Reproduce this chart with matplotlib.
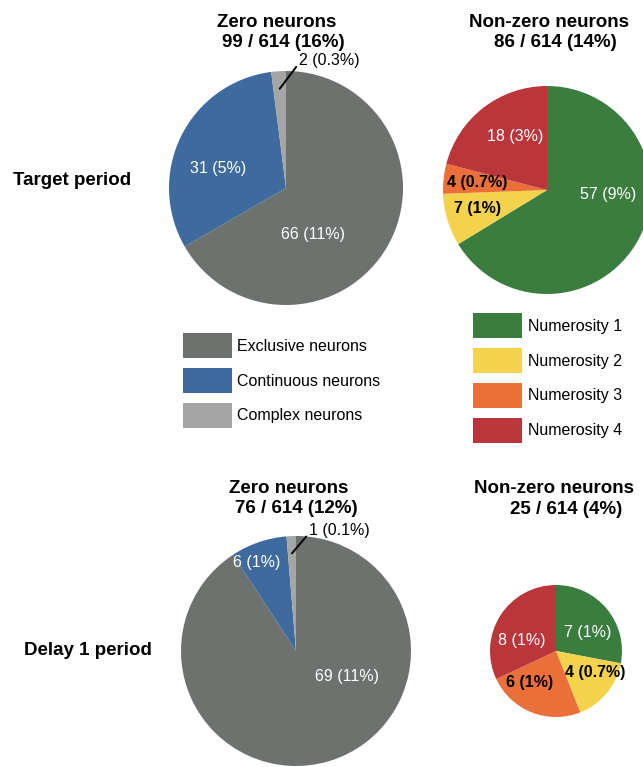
import matplotlib.pyplot as plt
import numpy as np

plt.rcParams['font.family'] = ['Liberation Sans', 'DejaVu Sans']

W, H = 643, 767
total = 614

type_names = ["Exclusive neurons", "Continuous neurons", "Complex neurons"]
type_colors = ["#6e726f", "#3e6a9e", "#a5a5a5"]
num_names = ["Numerosity 1", "Numerosity 2", "Numerosity 3", "Numerosity 4"]
num_colors = ["#3a7d3e", "#f5d24c", "#eb6f38", "#bb363b"]

target_zero = [66, 31, 2]
target_zero_labels = ["66 (11%)", "31 (5%)", "2 (0.3%)"]
target_nonzero = [57, 7, 4, 18]
target_nonzero_labels = ["57 (9%)", "7 (1%)", "4 (0.7%)", "18 (3%)"]
delay_zero = [69, 6, 1]
delay_zero_labels = ["69 (11%)", "6 (1%)", "1 (0.1%)"]
delay_nonzero = [7, 4, 6, 8]
delay_nonzero_labels = ["7 (1%)", "4 (0.7%)", "6 (1%)", "8 (1%)"]

fig = plt.figure(figsize=(W / 100, H / 100), dpi=100)
ax = fig.add_axes([0, 0, 1, 1])


def count_title(n):
    return f"{n} / {total} ({round(100 * n / total)}%)"


def draw_pie(values, colors, center, radius):
    # y axis is inverted below, so counterclock=True runs clockwise on screen
    wedges, _ = ax.pie(values, colors=colors, startangle=-90, counterclock=True,
                       center=center, radius=radius, frame=True,
                       wedgeprops=dict(linewidth=0))
    return wedges


def put_labels(labels, spots):
    for text, (x, y, col, bold) in zip(labels, spots):
        ax.text(x, y, text, ha="center", va="center", fontsize=11.5, color=col,
                fontweight="bold" if bold else "normal")


def leader(text, w, xytext):
    # short line from a thin slice out to its label
    th = np.deg2rad((w.theta1 + w.theta2) / 2)
    cx, cy = w.center
    xy = (cx + 0.85 * w.r * np.cos(th), cy + 0.85 * w.r * np.sin(th))
    ax.annotate(text, xy=xy, xytext=xytext, ha="left", va="center", fontsize=11.5,
                arrowprops=dict(arrowstyle="-", lw=1.4, color="black",
                                shrinkA=0, shrinkB=0, relpos=(0, 0.35)))


# Target period
w_tz = draw_pie(target_zero, type_colors, (286, 188), 117)
put_labels(target_zero_labels[:2], [(313, 235, "white", False), (218, 169, "white", False)])
leader(target_zero_labels[2], w_tz[2], (299, 61))

w_tn = draw_pie(target_nonzero, num_colors, (547, 190), 104)
put_labels(target_nonzero_labels, [(608, 195, "white", False), (478, 208, "black", True),
                                   (477, 183, "black", True), (515, 137, "white", False)])

# Delay 1 period
w_dz = draw_pie(delay_zero, type_colors, (296, 651), 115)
put_labels(delay_zero_labels[:2], [(347, 677, "white", False), (257, 563, "white", False)])
leader(delay_zero_labels[2], w_dz[2], (309, 531))

w_dn = draw_pie(delay_nonzero, num_colors, (556, 651), 66)
put_labels(delay_nonzero_labels, [(588, 633, "white", False), (595, 673, "black", True),
                                  (530, 682, "black", True), (522, 640, "white", False)])

# titles
tkw = dict(ha="center", va="baseline", fontsize=13.5, fontweight="bold")
ax.text(277, 27, "Zero neurons", **tkw)
ax.text(283, 47, count_title(sum(target_zero)), **tkw)
ax.text(549, 27, "Non-zero neurons", **tkw)
ax.text(555, 47, count_title(sum(target_nonzero)), **tkw)
ax.text(289, 493, "Zero neurons", **tkw)
ax.text(296, 513, count_title(sum(delay_zero)), **tkw)
ax.text(554, 493, "Non-zero neurons", **tkw)
ax.text(566, 514, count_title(sum(delay_nonzero)), **tkw)

ax.text(13, 185, "Target period", ha="left", va="baseline", fontsize=13.5, fontweight="bold")
ax.text(24, 655, "Delay 1 period", ha="left", va="baseline", fontsize=13.5, fontweight="bold")

lkw = dict(loc="upper left", frameon=False, fontsize=11.5, handlelength=3.06,
           handleheight=2.03, labelspacing=0.625, borderpad=0, borderaxespad=0)
leg1 = ax.legend(w_tz, type_names, bbox_to_anchor=(183, 333),
                 bbox_transform=ax.transData, handletextpad=0.3, **lkw)
ax.add_artist(leg1)
ax.legend(w_tn, num_names, bbox_to_anchor=(473, 313),
          bbox_transform=ax.transData, handletextpad=0.38, **lkw)

ax.set_xlim(0, W)
ax.set_ylim(H, 0)
ax.set_aspect("auto")
ax.axis("off")

fig.savefig("out.png", dpi=100)
